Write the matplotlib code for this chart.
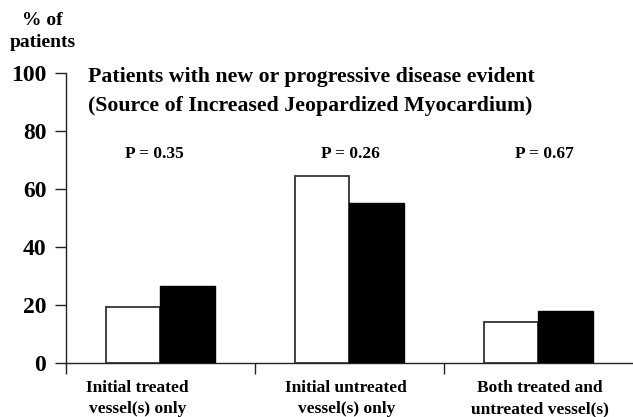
import matplotlib
matplotlib.use("Agg")
import matplotlib.pyplot as plt
import matplotlib.transforms as mtransforms
import numpy as np

categories = ["Initial treated\nvessel(s) only", "Initial untreated\nvessel(s) only", "Both treated and\nuntreated vessel(s)"]
series_white = [19.5, 64.6, 14.3]
series_black = [26.8, 55.2, 18.1]
p_labels = ["P = 0.35", "P = 0.26", "P = 0.67"]
yticks = [0, 20, 40, 60, 80, 100]

# layout offsets (data units) for text placement
cat_dx = [-0.119, -0.016, 0.008]
p_dx = [-0.032, 0.005, 0.032]

plt.rcParams['font.family'] = ['Liberation Serif', 'DejaVu Serif']
plt.rcParams['font.weight'] = 'bold'

fig = plt.figure(figsize=(6.33, 4.17), dpi=100)
ax = fig.add_axes([0.1038, 0.1288, 0.8962, 0.6954])

x = np.arange(len(categories))
w = 0.287
ax.bar(x - w/2, series_white, width=w, color='white', edgecolor='#333333', linewidth=1.3, zorder=3)
ax.bar(x + w/2, series_black, width=w, color='black', edgecolor='black', linewidth=1.0, zorder=3)

ax.set_xlim(-0.5, 2.5)
ax.set_ylim(0, 100)
ax.spines['top'].set_visible(False)
ax.spines['right'].set_visible(False)
for s in ['left', 'bottom']:
    ax.spines[s].set_linewidth(1.0)
    ax.spines[s].set_color('#222222')

ax.set_yticks(yticks)
ax.set_yticklabels([str(v) for v in yticks], fontsize=17, fontweight='bold')
ax.tick_params(axis='y', length=8, width=1.0, pad=6, color='#222222')

ax.set_xticks([-0.5, 0.5, 1.5])
ax.set_xticklabels([])
ax.tick_params(axis='x', length=8, width=1.0, color='#222222')

trans = mtransforms.blended_transform_factory(ax.transData, fig.transFigure)
for xi, dx, lab in zip(x, cat_dx, categories):
    ax.text(xi + dx, 1 - 398.5 / 417, lab, transform=trans, ha='center', va='center',
            fontsize=12.5, fontweight='bold', linespacing=1.45)

for xi, dx, lab in zip(x, p_dx, p_labels):
    ax.text(xi + dx, 1 - 154 / 417, lab, transform=trans, ha='center', va='center',
            fontsize=12.5, fontweight='bold')

fig.text(88 / 633, 1 - 77 / 417, "Patients with new or progressive disease evident", fontsize=15.7, fontweight='bold', va='center', ha='left')
fig.text(88 / 633, 1 - 106 / 417, "(Source of Increased Jeopardized Myocardium)", fontsize=15.7, fontweight='bold', va='center', ha='left')
fig.text(42.5 / 633, 1 - 31.5 / 417, "% of\npatients", fontsize=14, fontweight='bold', ha='center', va='center', linespacing=1.35)

fig.savefig("out.png", dpi=100)
